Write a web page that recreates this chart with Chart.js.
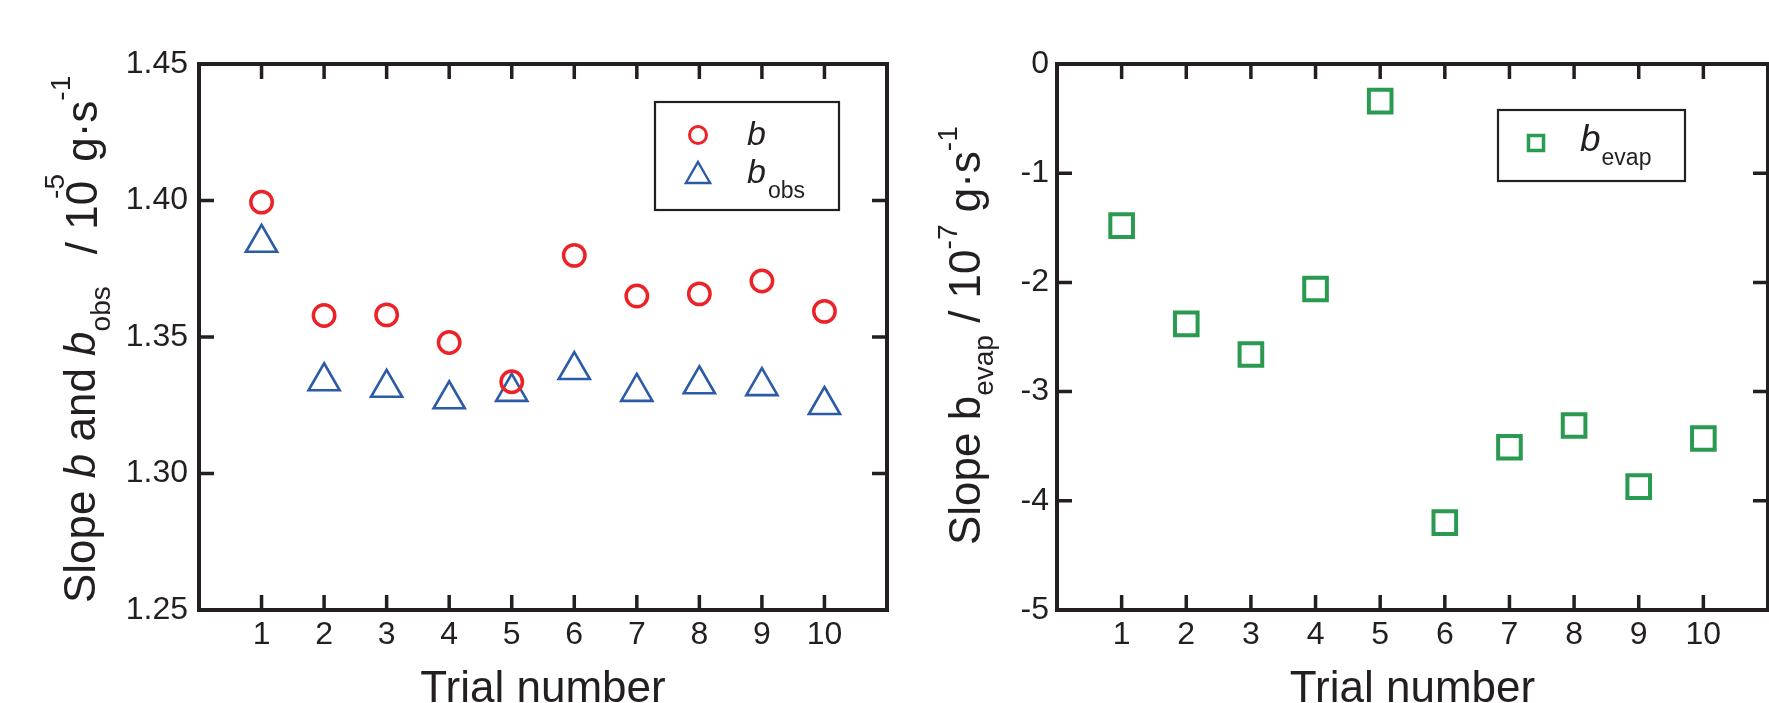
<!DOCTYPE html>
<html>
<head>
<meta charset="utf-8">
<script src="https://cdn.jsdelivr.net/npm/chart.js@4.4.1/dist/chart.umd.min.js"></script>
<style>
  html, body { margin: 0; padding: 0; background: #fff; }
  #wrap { position: relative; width: 1769px; height: 703px; overflow: hidden; }
  #chart-b { position: absolute; left: 0; top: 0; }
  #chart-evap { position: absolute; left: 900px; top: 0; }
</style>
</head>
<body>
<div id="wrap">
  <canvas id="chart-b" width="910" height="703"></canvas>
  <canvas id="chart-evap" width="960" height="703"></canvas>
</div>
<script>
// values
const trials = [1, 2, 3, 4, 5, 6, 7, 8, 9, 10];
const slopeB = [1.3994, 1.3579, 1.3581, 1.3480, 1.3336, 1.3799, 1.3650, 1.3658, 1.3705, 1.3594];
const slopeBObs = [1.3845, 1.3338, 1.3314, 1.3272, 1.3299, 1.3379, 1.3299, 1.3327, 1.3320, 1.3251];
const slopeBEvap = [-1.48, -2.38, -2.66, -2.06, -0.34, -4.20, -3.51, -3.31, -3.87, -3.43];
const bTicks = [1.25, 1.30, 1.35, 1.40, 1.45];
const evapTicks = [-5, -4, -3, -2, -1, 0];

const ink = '#231f20';
const red = '#ec2227';
const blue = '#2b5aa7';
const green = '#2a9a50';
const FONT = '"Liberation Sans", Arial, Helvetica, sans-serif';
const TICK = 15;

function points(ys) {
  return trials.map((t, i) => ({x: t, y: ys[i]}));
}

// text made of pieces: {t, size, italic, dy, dx}
function drawRich(ctx, segs, x, y, vertical) {
  ctx.save();
  ctx.translate(x, y);
  if (vertical) ctx.rotate(-Math.PI / 2);
  ctx.fillStyle = ink;
  ctx.textBaseline = 'alphabetic';
  ctx.textAlign = 'left';
  let pos = 0;
  segs.forEach(s => {
    pos += s.dx || 0;
    ctx.font = (s.italic ? 'italic ' : '') + s.size + 'px ' + FONT;
    ctx.fillText(s.t, pos, s.dy || 0);
    pos += ctx.measureText(s.t).width;
  });
  ctx.restore();
}

function drawCentered(ctx, text, size, x, y) {
  ctx.save();
  ctx.fillStyle = ink;
  ctx.font = size + 'px ' + FONT;
  ctx.textAlign = 'center';
  ctx.textBaseline = 'alphabetic';
  ctx.fillText(text, x, y);
  ctx.restore();
}

// closed box with inward ticks on all four sides
const framePlugin = {
  id: 'frame',
  beforeDatasetsDraw(chart) {
    const {ctx, chartArea: a, scales: {x, y}} = chart;
    ctx.save();
    ctx.strokeStyle = ink;
    ctx.lineWidth = 3.5;
    ctx.beginPath();
    x.ticks.forEach(t => {
      const px = x.getPixelForValue(t.value);
      ctx.moveTo(px, a.bottom); ctx.lineTo(px, a.bottom - TICK);
      ctx.moveTo(px, a.top); ctx.lineTo(px, a.top + TICK);
    });
    y.ticks.forEach(t => {
      const py = y.getPixelForValue(t.value);
      ctx.moveTo(a.left, py); ctx.lineTo(a.left + TICK, py);
      ctx.moveTo(a.right, py); ctx.lineTo(a.right - TICK, py);
    });
    ctx.stroke();
    ctx.lineWidth = 4;
    ctx.strokeRect(a.left, a.top, a.right - a.left, a.bottom - a.top);
    ctx.restore();
  }
};

const bLabels = {
  id: 'bLabels',
  afterDraw(chart) {
    const {ctx, chartArea: a} = chart;
    drawRich(ctx, [
      {t: 'Slope ', size: 44},
      {t: 'b', size: 44, italic: true},
      {t: ' and ', size: 44},
      {t: 'b', size: 44, italic: true},
      {t: 'obs', size: 28, dy: 15},
      {t: '/ 10', size: 44, dx: 32, dy: 2},
      {t: '-5', size: 28, dy: -31, dx: -18},
      {t: ' g\u00b7s', size: 44, dy: 2},
      {t: '-1', size: 28, dy: -25}
    ], a.left - 104, 603, true);
    drawCentered(ctx, 'Trial number', 44, (a.left + a.right) / 2, 702);

    // legend
    const bx = a.right - 232, by = a.top + 38;
    ctx.save();
    ctx.strokeStyle = ink;
    ctx.lineWidth = 2.2;
    ctx.strokeRect(bx, by, 184, 108);
    ctx.strokeStyle = red;
    ctx.lineWidth = 3;
    ctx.beginPath();
    ctx.arc(bx + 43, by + 33, 8.5, 0, Math.PI * 2);
    ctx.stroke();
    ctx.strokeStyle = blue;
    ctx.lineWidth = 2.4;
    const tx = bx + 43, ty = by + 74, r = 14;
    ctx.beginPath();
    ctx.moveTo(tx, ty - r);
    ctx.lineTo(tx + r * 0.866, ty + r / 2);
    ctx.lineTo(tx - r * 0.866, ty + r / 2);
    ctx.closePath();
    ctx.stroke();
    ctx.restore();
    drawRich(ctx, [{t: 'b', size: 34, italic: true}], bx + 92, by + 43, false);
    drawRich(ctx, [{t: 'b', size: 34, italic: true}, {t: 'obs', size: 23, dy: 15, dx: 2}], bx + 92, by + 81, false);
  }
};

const evapLabels = {
  id: 'evapLabels',
  afterDraw(chart) {
    const {ctx, chartArea: a} = chart;
    drawRich(ctx, [
      {t: 'Slope b', size: 44},
      {t: 'evap', size: 28, dy: 13},
      {t: ' / 10', size: 44},
      {t: '-7', size: 28, dy: -23},
      {t: ' g\u00b7s', size: 44},
      {t: '-1', size: 28, dy: -23}
    ], a.left - 77, 545, true);
    drawCentered(ctx, 'Trial number', 44, (a.left + a.right) / 2, 702);

    const bx = a.right - 270, by = a.top + 46;
    ctx.save();
    ctx.strokeStyle = ink;
    ctx.lineWidth = 2.2;
    ctx.strokeRect(bx, by, 187, 71);
    ctx.strokeStyle = green;
    ctx.lineWidth = 3.5;
    ctx.strokeRect(bx + 38 - 7.5, by + 33 - 7.5, 15, 15);
    ctx.restore();
    drawRich(ctx, [{t: 'b', size: 37, italic: true}, {t: 'evap', size: 23, dy: 14, dx: 1}], bx + 82, by + 41, false);
  }
};

function tickFont() {
  return {family: FONT, size: 32};
}

Chart.defaults.animation = false;
Chart.defaults.plugins.legend.display = false;
Chart.defaults.plugins.tooltip.enabled = false;

new Chart(document.getElementById('chart-b').getContext('2d'), {
  type: 'scatter',
  data: {
    datasets: [{
      label: 'b',
      data: points(slopeB),
      pointStyle: 'circle',
      pointRadius: 10.7,
      borderWidth: 3.5,
      borderColor: red,
      backgroundColor: 'rgba(0,0,0,0)'
    }, {
      label: 'b_obs',
      data: points(slopeBObs),
      pointStyle: 'triangle',
      pointRadius: 18,
      borderWidth: 2.6,
      borderColor: blue,
      backgroundColor: 'rgba(0,0,0,0)'
    }]
  },
  options: {
    responsive: false,
    layout: {padding: {left: 109, right: 23, top: 64, bottom: 43}},
    scales: {
      x: {
        type: 'linear', min: 0, max: 11,
        afterBuildTicks: s => { s.ticks = trials.map(v => ({value: v})); },
        afterFit: s => { s.height = 50; },
        grid: {display: false, drawTicks: false},
        border: {display: false},
        ticks: {font: tickFont(), color: ink, padding: 6}
      },
      y: {
        type: 'linear', min: 1.25, max: 1.45,
        afterBuildTicks: s => { s.ticks = bTicks.map(v => ({value: v})); },
        afterFit: s => { s.width = 90; },
        grid: {display: false, drawTicks: false},
        border: {display: false},
        ticks: {font: tickFont(), color: ink, padding: 11, callback: v => v.toFixed(2)}
      }
    }
  },
  plugins: [framePlugin, bLabels]
});

new Chart(document.getElementById('chart-evap').getContext('2d'), {
  type: 'scatter',
  data: {
    datasets: [{
      label: 'b_evap',
      data: points(slopeBEvap),
      pointStyle: 'rect',
      pointRadius: 16,
      borderWidth: 4,
      borderColor: green,
      backgroundColor: 'rgba(0,0,0,0)'
    }]
  },
  options: {
    responsive: false,
    layout: {padding: {left: 97, right: 92, top: 64, bottom: 43}},
    scales: {
      x: {
        type: 'linear', min: 0, max: 11,
        afterBuildTicks: s => { s.ticks = trials.map(v => ({value: v})); },
        afterFit: s => { s.height = 50; },
        grid: {display: false, drawTicks: false},
        border: {display: false},
        ticks: {font: tickFont(), color: ink, padding: 6}
      },
      y: {
        type: 'linear', min: -5, max: 0,
        afterBuildTicks: s => { s.ticks = evapTicks.map(v => ({value: v})); },
        afterFit: s => { s.width = 60; },
        grid: {display: false, drawTicks: false},
        border: {display: false},
        ticks: {font: tickFont(), color: ink, padding: 8, callback: v => String(v)}
      }
    }
  },
  plugins: [framePlugin, evapLabels]
});
</script>
</body>
</html>
